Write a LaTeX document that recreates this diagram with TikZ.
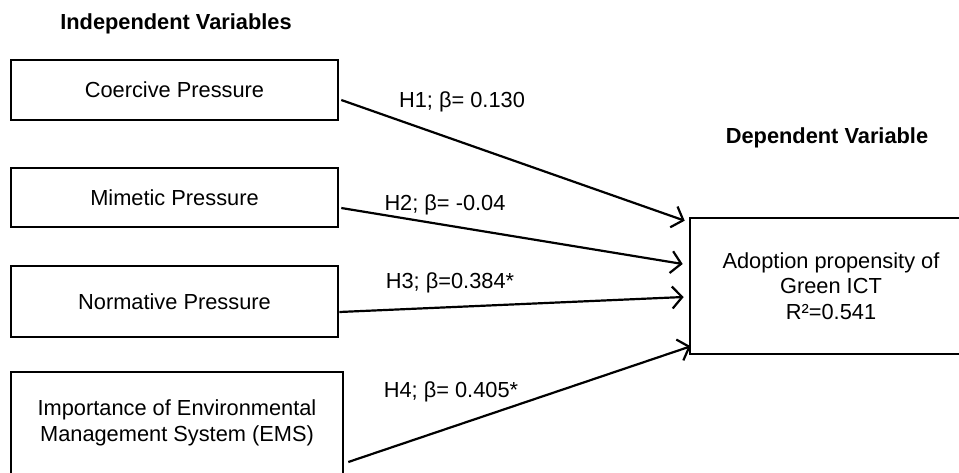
\documentclass[tikz,border=0pt]{standalone}
\usepackage{fontspec}
\setmainfont{Liberation Sans}
\usetikzlibrary{arrows.meta}
\tikzset{
  varbox/.style={draw, line width=2.6pt, rectangle, align=center, inner sep=0pt},
  path arrow/.style={line width=2.2pt, -{Straight Barb[length=10pt,width=22pt,line width=2.2pt]}},
  lbl/.style={inner sep=0pt, anchor=center},
  ttl/.style={inner sep=0pt, font=\bfseries\fontsize{21.8}{25}\selectfont}
}
\begin{document}
\begin{tikzpicture}[x=1pt,y=-1pt,font=\fontsize{21.8}{25.5}\selectfont]
\useasboundingbox (0,0) rectangle (959,472);
\clip (0,0) rectangle (959,472);
\node[ttl] (ti) at (176,24) {Independent Variables};
\node[ttl] (td) at (827,138) {Dependent Variable};
\node[varbox, minimum width=327pt, minimum height=60pt] (b1) at (174.5,90) {Coercive Pressure};
\node[varbox, minimum width=327pt, minimum height=59pt] (b2) at (174.5,197.5) {Mimetic Pressure};
\node[varbox, minimum width=327pt, minimum height=71pt] (b3) at (174.5,301.5) {Normative Pressure};
\node[varbox, minimum width=332pt, minimum height=102pt] (b4) at (177,423) {Importance of Environmental\\Management System (EMS)};
\node[varbox, minimum width=282pt, minimum height=136pt] (dv) at (831,286) {Adoption propensity of\\Green ICT\\R²=0.541};
\draw[path arrow] ([shift={(2pt,-10pt)}]b1.east) -- ([shift={(-4pt,-4pt)}]dv.north west);
\draw[path arrow] ([shift={(2pt,-10.5pt)}]b2.east) -- ([shift={(-6pt,22pt)}]dv.west);
\draw[path arrow] ([shift={(0pt,-10.5pt)}]b3.east) -- ([shift={(-5pt,-11pt)}]dv.west);
\draw[path arrow] ([shift={(4pt,-39pt)}]b4.east) -- ([shift={(2pt,9pt)}]dv.south west);
\node[lbl] (h1) at (462,102) {H1; β= 0.130};
\node[lbl] (h2) at (445,205) {H2; β= -0.04};
\node[lbl] (h3) at (450,283) {H3; β=0.384*};
\node[lbl] (h4) at (451,392) {H4; β= 0.405*};
\end{tikzpicture}
\end{document}
